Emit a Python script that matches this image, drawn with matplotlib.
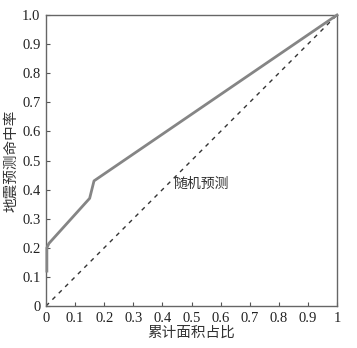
import numpy as np
import matplotlib.pyplot as plt

# 成功率曲线
curve_x = [0.003, 0.003, 0.01, 0.15, 0.165, 1.0]
curve_y = [0.12, 0.20, 0.215, 0.37, 0.43, 1.0]
rand_x = [0.0, 1.0]
rand_y = [0.0, 1.0]

xticks = [0, 0.1, 0.2, 0.3, 0.4, 0.5, 0.6, 0.7, 0.8, 0.9, 1.0]
xlabels = ['0', '0.1', '0.2', '0.3', '0.4', '0.5', '0.6', '0.7', '0.8', '0.9', '1']
yticks = [0, 0.1, 0.2, 0.3, 0.4, 0.5, 0.6, 0.7, 0.8, 0.9, 1.0]
ylabels = ['0', '0.1', '0.2', '0.3', '0.4', '0.5', '0.6', '0.7', '0.8', '0.9', '1.0']

cjk = ['Noto Sans CJK SC', 'DejaVu Sans']
num = 'Liberation Serif'

fig = plt.figure(figsize=(3.57, 3.48), dpi=100)
ax = fig.add_axes([46/357, 1 - 306/348, 291/357, 291/348])

ax.plot(curve_x, curve_y, color='#858585', lw=2.0, solid_joinstyle='round',
        zorder=3, clip_on=False)
ax.plot(rand_x, rand_y, color='#333333', lw=1.0, ls=(0, (3, 3.5)))

ax.set_xlim(0, 1)
ax.set_ylim(0, 1)
ax.set_xticks(xticks)
ax.set_xticklabels(xlabels, fontfamily=num, fontsize=10.5, color='#222222')
ax.set_yticks(yticks)
ax.set_yticklabels(ylabels, fontfamily=num, fontsize=10.5, color='#222222')
ax.tick_params(direction='in', length=3, width=0.8, color='#555555', pad=4)
for s in ax.spines.values():
    s.set_color('#666666')
    s.set_linewidth(1.0)

ax.text(0.44, 0.42, '随机预测', family=cjk, fontsize=10, color='#333333', va='center')
ax.set_xlabel('累计面积占比', family=cjk, fontsize=10.5, color='#333333', labelpad=1)
ax.set_ylabel('地震预测命中率', family=cjk, fontsize=10.5, color='#333333', labelpad=3)

fig.savefig('out.png', dpi=100)
